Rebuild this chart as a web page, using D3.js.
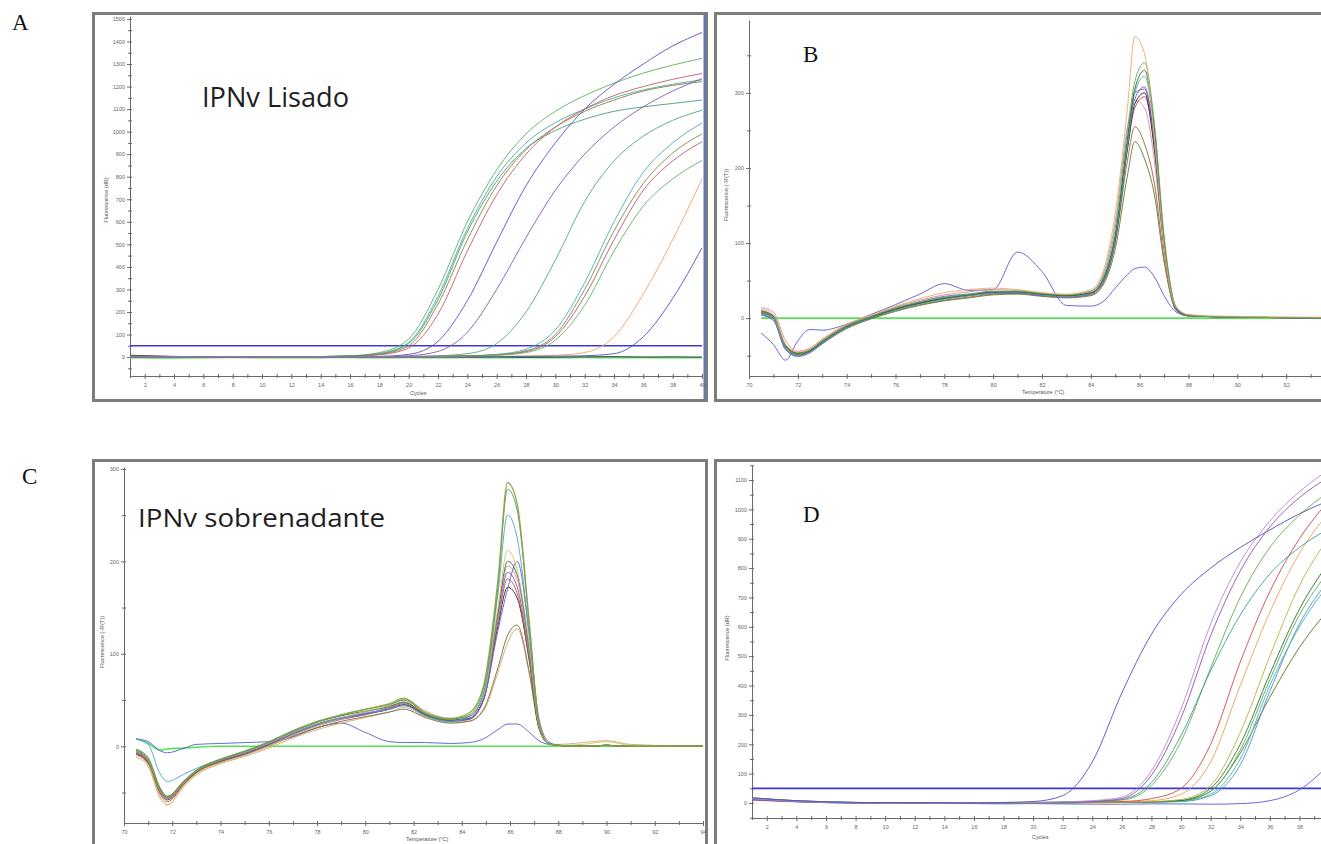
<!DOCTYPE html>
<html><head><meta charset="utf-8">
<script src="https://cdn.jsdelivr.net/npm/d3@7"></script>
<style>body{margin:0;background:#fff;} svg{display:block;}</style>
</head><body>
<script>
// ================= DATA =================
// ---- Panel A : amplification, IPNv Lisado (x = cycle, y = dR)
const cyclesA = [1,4,8,12,16,18,20,22,24,26,28,30,32,34,36,38,40];
const aGreen1 = [3,2,0,1,6,20,80,300,600,830,990,1090,1160,1215,1260,1295,1325];
const aTeal1  = [2,1,0,0,5,16,65,270,570,800,950,1040,1100,1150,1185,1210,1230];
const aOlive1 = [4,2,1,0,4,12,50,235,520,760,920,1020,1090,1140,1180,1205,1222];
const aGreen2 = [1,0,0,1,5,14,60,255,555,780,925,1005,1055,1090,1110,1125,1140];
const aRed1   = [2,1,0,0,3,10,40,190,470,720,900,1020,1100,1160,1200,1232,1258];
const aBlue1  = [1,0,0,0,1,3,12,70,250,510,760,950,1100,1210,1300,1380,1440];
const aPurple1= [0,1,0,0,1,2,6,25,110,300,530,740,900,1020,1110,1180,1235];
const aGreen3 = [0,0,1,0,0,1,3,6,15,60,200,430,690,870,980,1050,1095];
const aTeal2  = [0,0,0,0,0,1,2,4,6,12,35,120,330,600,820,950,1038];
const aOlive2 = [0,0,0,0,1,1,2,3,5,10,28,100,300,560,770,905,990];
const aRed2   = [0,0,0,0,0,1,1,3,5,9,24,90,270,520,740,870,955];
const aGreen4 = [0,0,0,0,0,0,1,2,4,8,20,75,230,470,670,790,872];
const aOrange = [0,0,0,0,0,0,0,1,2,3,5,8,20,90,280,520,790];
const aBlue2  = [0,0,0,0,0,0,0,0,1,2,3,4,6,15,90,260,485];
const aBase   = [8,3,0,2,1,-1,0,2,0,1,-1,0,1,2,0,1,0];
const aNeg    = [-3,-4,-2,-3,-2,-3,-2,-3,-2,-3,-2,-3,-2,-3,-2,-3,-3];
const thresholdA = 50;
const yTicksA = [0,100,200,300,400,500,600,700,800,900,1000,1100,1200,1300,1400,1500];
const yMinorA = [-50,50,150,250,350,450,550,650,750,850,950,1050,1150,1250,1350,1450];
const xTicksA = [2,4,6,8,10,12,14,16,18,20,22,24,26,28,30,32,34,36,38,40];
const xMinorCyc = [1,3,5,7,9,11,13,15,17,19,21,23,25,27,29,31,33,35,37,39];

// ---- Panel B : melt curve, lysate (x = temperature, y = -R'(T))
const tempsB = [70.5,71,71.5,72,72.5,73,74,75,76,77,78,79,80,81,82,83,84,84.5,85,85.5,85.8,86.2,86.6,87,87.5,88,89,91,95];
const bOrange = [12,5,-35,-45,-40,-28,-8,4,16,26,34,38,40,38,34,32,38,62,140,280,375,352,240,95,14,5,3,2,1];
const bGreen  = [8,2,-38,-48,-42,-30,-10,2,14,22,28,32,36,36,33,31,36,55,120,250,315,340,260,110,15,4,2,1,0];
const bDkGreen= [10,3,-36,-47,-43,-31,-11,1,12,20,27,31,35,35,32,30,34,52,112,240,305,330,255,105,14,4,2,1,0];
const bTeal   = [6,0,-40,-50,-45,-33,-12,0,11,19,25,30,33,34,31,29,33,50,108,232,300,322,250,100,13,4,2,1,0];
const bPurple = [5,-2,-42,-50,-44,-32,-11,1,12,20,26,30,33,33,30,28,32,48,105,235,300,305,235,95,12,3,2,1,0];
const bBlack  = [8,2,-38,-48,-44,-32,-12,2,12,20,26,30,34,35,32,30,33,50,105,225,285,300,225,95,12,4,2,1,0];
const bPink   = [14,8,-30,-44,-40,-28,-9,3,15,24,31,35,38,37,33,31,36,58,128,255,290,280,210,88,12,4,2,1,0];
const bRed    = [9,3,-36,-46,-42,-30,-10,2,13,21,27,31,35,35,32,30,34,51,108,228,280,295,230,98,13,4,2,1,0];
const bBrown  = [7,1,-38,-47,-44,-33,-13,0,10,18,24,28,32,33,30,28,31,46,100,210,255,232,180,80,11,3,2,1,0];
const bOlive  = [6,0,-40,-49,-45,-34,-14,-1,9,17,23,27,31,32,29,27,30,44,92,190,235,212,165,75,10,3,2,1,0];
const bViolet = [4,-3,-42,-51,-46,-34,-12,0,12,22,29,32,34,34,31,29,33,49,104,230,292,308,238,100,13,4,2,1,0];
const bBlueLow= [-20,-35,-56,-30,-15,-16,-8,5,18,32,46,37,38,88,62,17,16,22,40,58,66,68,55,30,8,3,2,1,0];
const bNeg    = [0,0,0,0,0,0,0,0,0,0,0,0,0,0,0,0,0,0,0,0,0,0,0,0,0,0,0,0,0];
const xTicksB = [70,72,74,76,78,80,82,84,86,88,90,92];
const xTicksC = [70,72,74,76,78,80,82,84,86,88,90,92,94];
const xMinorT = [71,73,75,77,79,81,83,85,87,89,91,93];
const yTicksB = [0,100,200,300];
const yMinorB = [-50,50,150,250,350];

// ---- Panel C : melt curve, IPNv sobrenadante
const tempsC = [70.5,71,71.5,71.8,72.5,73,74,75,76,77,78,79,80,81,81.6,82.5,83.5,84.3,84.9,85.5,85.9,86.3,86.8,87.2,87.6,88,89,90,91,94];
const cOlive  = [-5,-15,-48,-56,-38,-27,-15,-6,4,16,26,34,40,46,52,36,30,36,65,180,285,262,134,26,3,1,0,1,0,0];
const cGreen  = [-3,-12,-45,-55,-37,-26,-14,-5,5,17,27,34,40,45,50,35,29,34,62,172,278,255,130,25,3,1,0,1,0,0];
const cTeal   = [8,2,-30,-38,-30,-24,-14,-6,4,15,24,30,36,40,44,33,27,32,58,165,250,225,120,24,3,1,0,1,0,0];
const cYellow = [-10,-20,-55,-64,-42,-30,-18,-10,0,12,22,30,38,44,50,37,30,33,55,150,212,190,110,22,3,1,2,5,1,0];
const cViolet = [-6,-16,-48,-56,-38,-27,-16,-8,2,13,23,30,35,40,44,33,27,29,50,125,170,200,120,30,5,1,0,1,0,0];
const cPurple = [-8,-18,-50,-57,-40,-28,-16,-8,2,13,23,30,35,42,47,35,28,30,52,140,188,172,98,22,3,1,0,1,0,0];
const cRed    = [-9,-19,-52,-60,-41,-29,-17,-9,1,12,22,29,34,41,46,34,27,29,50,135,181,165,95,21,3,1,0,1,0,0];
const cBlack  = [-8,-18,-50,-58,-40,-28,-16,-8,2,14,24,31,35,40,45,34,28,30,50,130,172,160,92,20,3,1,0,1,0,0];
const cBrown  = [-7,-17,-47,-55,-39,-28,-17,-9,0,11,20,27,32,37,40,31,25,27,40,85,120,131,80,20,3,1,0,1,0,0];
const cTan    = [-12,-22,-56,-63,-43,-31,-19,-11,-2,9,18,25,31,37,42,32,26,27,38,80,112,127,78,19,3,2,4,6,2,0];
const cDkGreen= [-4,-14,-46,-54,-37,-26,-14,-6,4,16,26,33,38,43,48,34,28,32,56,145,200,185,105,23,3,1,0,1,0,0];
const cPink   = [-6,-16,-49,-57,-39,-27,-15,-7,3,14,24,31,37,44,51,38,30,32,54,142,195,180,100,22,3,1,0,1,0,0];
const cBlueLow= [8,5,-5,-7,-2,2,3,4,5,10,20,25,15,5,4,4,3,4,8,18,24,24,15,6,2,1,0,1,0,0];
const cNeg    = [8,3,-4,-3,-2,-1,0,0,0,0,0,0,0,0,0,0,0,0,0,0,0,0,0,0,0,0,0,0,0,0];
const yTicksC = [0,100,200,300];
const yMinorC = [-50,50,150,250];

// ---- Panel D : amplification, supernatant
const cyclesD = [1,4,8,12,16,18,20,22,24,26,28,30,32,34,36,38,40];
const dBlue1   = [18,8,2,1,0,2,5,25,140,375,575,710,800,870,930,985,1030];
const dLavender= [15,6,1,0,0,1,2,4,8,20,110,320,610,820,960,1060,1135];
const dPurple  = [12,5,0,1,0,1,2,3,6,15,95,290,570,790,940,1040,1110];
const dTeal    = [14,6,1,0,0,0,1,3,5,12,70,230,450,640,780,870,935];
const dGreen   = [16,7,2,0,1,0,1,2,5,10,60,210,460,700,870,980,1060];
const dRed     = [12,5,1,0,0,0,1,2,3,5,15,50,200,480,720,900,1030];
const dOrange  = [14,6,1,0,0,1,1,2,3,4,8,30,140,400,650,850,990];
const dYellow  = [18,7,1,0,0,0,1,2,2,3,5,12,60,240,500,740,905];
const dDkGreen = [17,8,2,0,-1,0,1,1,2,3,4,9,50,200,440,660,820];
const dGreen2  = [15,6,1,0,0,0,0,1,2,3,4,8,40,180,420,640,790];
const dSteel   = [12,5,0,0,0,0,0,1,1,2,3,5,25,130,380,610,760];
const dOlive   = [16,7,1,0,0,0,1,1,2,2,3,7,40,170,360,530,660];
const dCyan    = [13,5,1,0,0,0,1,1,2,3,4,6,30,150,400,600,745];
const dBlue2   = [10,4,0,0,-2,-3,-2,-3,-4,-4,-3,-3,-4,-2,8,45,130];
const thresholdD = 50;
const yTicksD = [0,100,200,300,400,500,600,700,800,900,1000,1100];
const yMinorD = [-50,50,150,250,350,450,550,650,750,850,950,1050,1150];
const xTicksD = [2,4,6,8,10,12,14,16,18,20,22,24,26,28,30,32,34,36,38];

// ================= DRAWING =================
const svg = d3.select('body').append('svg').attr('width',1321).attr('height',844)
  .style('font-family','"Liberation Sans", Arial, sans-serif');

function frame(x,y,w,h){
  svg.append('rect').attr('x',x).attr('y',y).attr('width',w).attr('height',h)
    .attr('fill','#fff').attr('stroke','#7d7d7d').attr('stroke-width',3);
}
frame(93.5,13.5,613,387);
frame(715.5,13.5,640,387);
frame(93.5,460.5,613,420);
frame(715.5,460.5,640,420);
svg.append('line').attr('x1',704.5).attr('x2',704.5).attr('y1',14).attr('y2',400)
  .attr('stroke','#5a78c0').attr('stroke-width',2);

let clipId = 0;
const fmt = d3.format('d');
function panel(cfg){
  const xs = d3.scaleLinear().domain(cfg.xDomain).range(cfg.xRange);
  const ys = d3.scaleLinear().domain(cfg.yDomain).range(cfg.yRange);
  const g = svg.append('g');
  const id = 'clip'+(clipId++);
  g.append('clipPath').attr('id',id).append('rect')
    .attr('x',cfg.xRange[0]).attr('y',cfg.yRange[1]-2)
    .attr('width',cfg.xRange[1]-cfg.xRange[0]).attr('height',cfg.yRange[0]-cfg.yRange[1]+2);

  const tickStyle = sel => {
    sel.select('.domain').attr('stroke','#6a6a6a').attr('stroke-width',1);
    sel.selectAll('.tick line').attr('stroke','#6a6a6a');
    sel.selectAll('.tick text').attr('fill','#666').attr('font-size',5.5)
      .attr('font-family','"Liberation Sans", Arial, sans-serif');
  };
  const xa = g.append('g').attr('transform',`translate(0,${cfg.yRange[0]})`)
    .call(d3.axisBottom(xs).tickValues(cfg.xTicks).tickFormat(fmt).tickSize(3).tickSizeOuter(0).tickPadding(4))
    .call(tickStyle);
  xa.selectAll('.tick line').attr('y1',-2);
  const xm = g.append('g').attr('transform',`translate(0,${cfg.yRange[0]})`)
    .call(d3.axisBottom(xs).tickValues(cfg.xMinor).tickSize(2).tickSizeOuter(0).tickFormat(''))
    .call(tickStyle);
  xm.select('.domain').remove();
  xm.selectAll('.tick line').attr('y1',-2);
  const ya = g.append('g').attr('transform',`translate(${cfg.xRange[0]},0)`)
    .call(d3.axisLeft(ys).tickValues(cfg.yTicks).tickFormat(fmt).tickSize(3).tickSizeOuter(0).tickPadding(2))
    .call(tickStyle);
  ya.selectAll('.tick line').attr('x1',2);
  const ym = g.append('g').attr('transform',`translate(${cfg.xRange[0]},0)`)
    .call(d3.axisLeft(ys).tickValues(cfg.yMinor).tickSize(2).tickSizeOuter(0).tickFormat(''))
    .call(tickStyle);
  ym.select('.domain').remove();
  ym.selectAll('.tick line').attr('x1',2);

  g.append('text').attr('x',cfg.xTitlePos[0]).attr('y',cfg.xTitlePos[1])
    .attr('font-size',5.5).attr('fill','#555').text(cfg.xTitle);
  g.append('text').attr('transform',`translate(${cfg.yTitlePos[0]},${cfg.yTitlePos[1]}) rotate(-90)`)
    .attr('text-anchor','middle').attr('font-size',5.5).attr('fill','#555').text(cfg.yTitle);

  const plot = g.append('g').attr('clip-path',`url(#${id})`);
  if (cfg.threshold !== undefined){
    plot.append('line').attr('x1',cfg.xRange[0]).attr('x2',cfg.xRange[1])
      .attr('y1',ys(cfg.threshold)).attr('y2',ys(cfg.threshold))
      .attr('stroke','#3a3ad8').attr('stroke-width',1.6);
  }
  const line = d3.line().x(d=>xs(d[0])).y(d=>ys(d[1])).curve(d3.curveMonotoneX);
  cfg.series.forEach(s=>{
    const pts = s.values.map((v,i)=>[cfg.xs[i],v]);
    plot.append('path').attr('d',line(pts)).attr('fill','none')
      .attr('stroke',s.color).attr('stroke-width',s.width||1)
      .attr('stroke-opacity',s.opacity||0.9);
  });
}

panel({
  xDomain:[1,40], xRange:[130,702], yDomain:[-84,1513], yRange:[376,16],
  xTicks:xTicksA, xMinor:xMinorCyc, yTicks:yTicksA, yMinor:yMinorA,
  xTitle:'Cycles', xTitlePos:[410,395], yTitle:'Fluorescence (dR)', yTitlePos:[108,200],
  threshold:thresholdA, xs:cyclesA,
  series:[
    {values:aNeg,color:'#3de23d',width:1.6},
    {values:aBase,color:'#2a2a2a'},
    {values:aGreen1,color:'#5fae5f'},{values:aTeal1,color:'#47a9a9'},
    {values:aOlive1,color:'#85853a'},{values:aGreen2,color:'#4b9d70'},
    {values:aRed1,color:'#c85c6a'},{values:aBlue1,color:'#5a52c8'},
    {values:aPurple1,color:'#8e55aa'},{values:aGreen3,color:'#54a57c'},
    {values:aTeal2,color:'#4aabb8'},{values:aOlive2,color:'#7f893e'},
    {values:aRed2,color:'#b4547c'},{values:aGreen4,color:'#62b462'},
    {values:aOrange,color:'#f2a36a'},{values:aBlue2,color:'#4f4fd2'}
  ]
});

panel({
  xDomain:[70,94], xRange:[749,1335], yDomain:[-77,397], yRange:[376,20],
  xTicks:xTicksB, xMinor:xMinorT, yTicks:yTicksB, yMinor:yMinorB,
  xTitle:'Temperature (°C)', xTitlePos:[1022,394], yTitle:"Fluorescence (-R'(T))", yTitlePos:[728,195],
  xs:tempsB,
  series:[
    {values:bNeg,color:'#3fe23f',width:1.6},
    {values:bBlueLow,color:'#5a5ad0'},
    {values:bOlive,color:'#5c7d2c'},{values:bBrown,color:'#a0603a'},
    {values:bPink,color:'#d88aa8'},{values:bRed,color:'#c24a4a'},
    {values:bBlack,color:'#222222'},{values:bPurple,color:'#9050b0'},
    {values:bViolet,color:'#6a5ad0'},{values:bTeal,color:'#45a8b2'},
    {values:bDkGreen,color:'#2e6e2e'},{values:bGreen,color:'#5ab05a'},
    {values:bOrange,color:'#f2a868'}
  ]
});

panel({
  xDomain:[70,94], xRange:[124,703], yDomain:[-83,302], yRange:[823,467],
  xTicks:xTicksC, xMinor:xMinorT, yTicks:yTicksC, yMinor:yMinorC,
  xTitle:'Temperature (°C)', xTitlePos:[406,841], yTitle:"Fluorescence (-R'(T))", yTitlePos:[104,642],
  xs:tempsC,
  series:[
    {values:cNeg,color:'#3fe23f',width:1.6},
    {values:cBlueLow,color:'#5a5ad0'},
    {values:cTan,color:'#c8aa74'},{values:cBrown,color:'#7c6c3c'},
    {values:cBlack,color:'#222222'},{values:cRed,color:'#c44c4c'},
    {values:cPurple,color:'#8c4c9c'},{values:cPink,color:'#d090b0'},
    {values:cViolet,color:'#6060d0'},{values:cDkGreen,color:'#2e6e3e'},
    {values:cYellow,color:'#d4c45c'},{values:cTeal,color:'#4aa4cc'},
    {values:cGreen,color:'#4e9e4e'},{values:cOlive,color:'#8c9c3c',width:1.3}
  ]
});

panel({
  xDomain:[1,40], xRange:[752,1329], yDomain:[-51,1151], yRange:[818,465],
  xTicks:xTicksD, xMinor:xMinorCyc, yTicks:yTicksD, yMinor:yMinorD,
  xTitle:'Cycles', xTitlePos:[1032,839], yTitle:'Fluorescence (dR)', yTitlePos:[729,638],
  threshold:thresholdD, xs:cyclesD,
  series:[
    {values:dBlue2,color:'#5a5ad0'},
    {values:dOlive,color:'#6b6b32'},{values:dSteel,color:'#4a8fc8'},
    {values:dCyan,color:'#45b5b5'},{values:dGreen2,color:'#50b050'},
    {values:dDkGreen,color:'#2f6f2f'},{values:dYellow,color:'#b4b440'},
    {values:dOrange,color:'#f0a050'},{values:dRed,color:'#d04848'},
    {values:dGreen,color:'#64ac4a'},{values:dTeal,color:'#3aa090'},
    {values:dPurple,color:'#8e50b2'},{values:dLavender,color:'#b888d0'},
    {values:dBlue1,color:'#5050c0'}
  ]
});

svg.append('text').attr('x',202).attr('y',107).attr('font-family','"Open Sans", sans-serif')
  .attr('font-size',27).attr('fill','#1e1e1e').attr('textLength',147).attr('lengthAdjust','spacingAndGlyphs')
  .text('IPNv Lisado');
svg.append('text').attr('x',138).attr('y',527).attr('font-family','"Open Sans", sans-serif')
  .attr('font-size',26).attr('fill','#1e1e1e').attr('textLength',247).attr('lengthAdjust','spacingAndGlyphs')
  .text('IPNv sobrenadante');
const letter = (t,x,y)=>svg.append('text').attr('x',x).attr('y',y)
  .attr('font-family','"Liberation Serif", "Times New Roman", serif').attr('font-size',23)
  .attr('fill','#111').text(t);
letter('A',12,30); letter('B',803,62); letter('C',22,484); letter('D',803,522);
</script>
</body></html>
